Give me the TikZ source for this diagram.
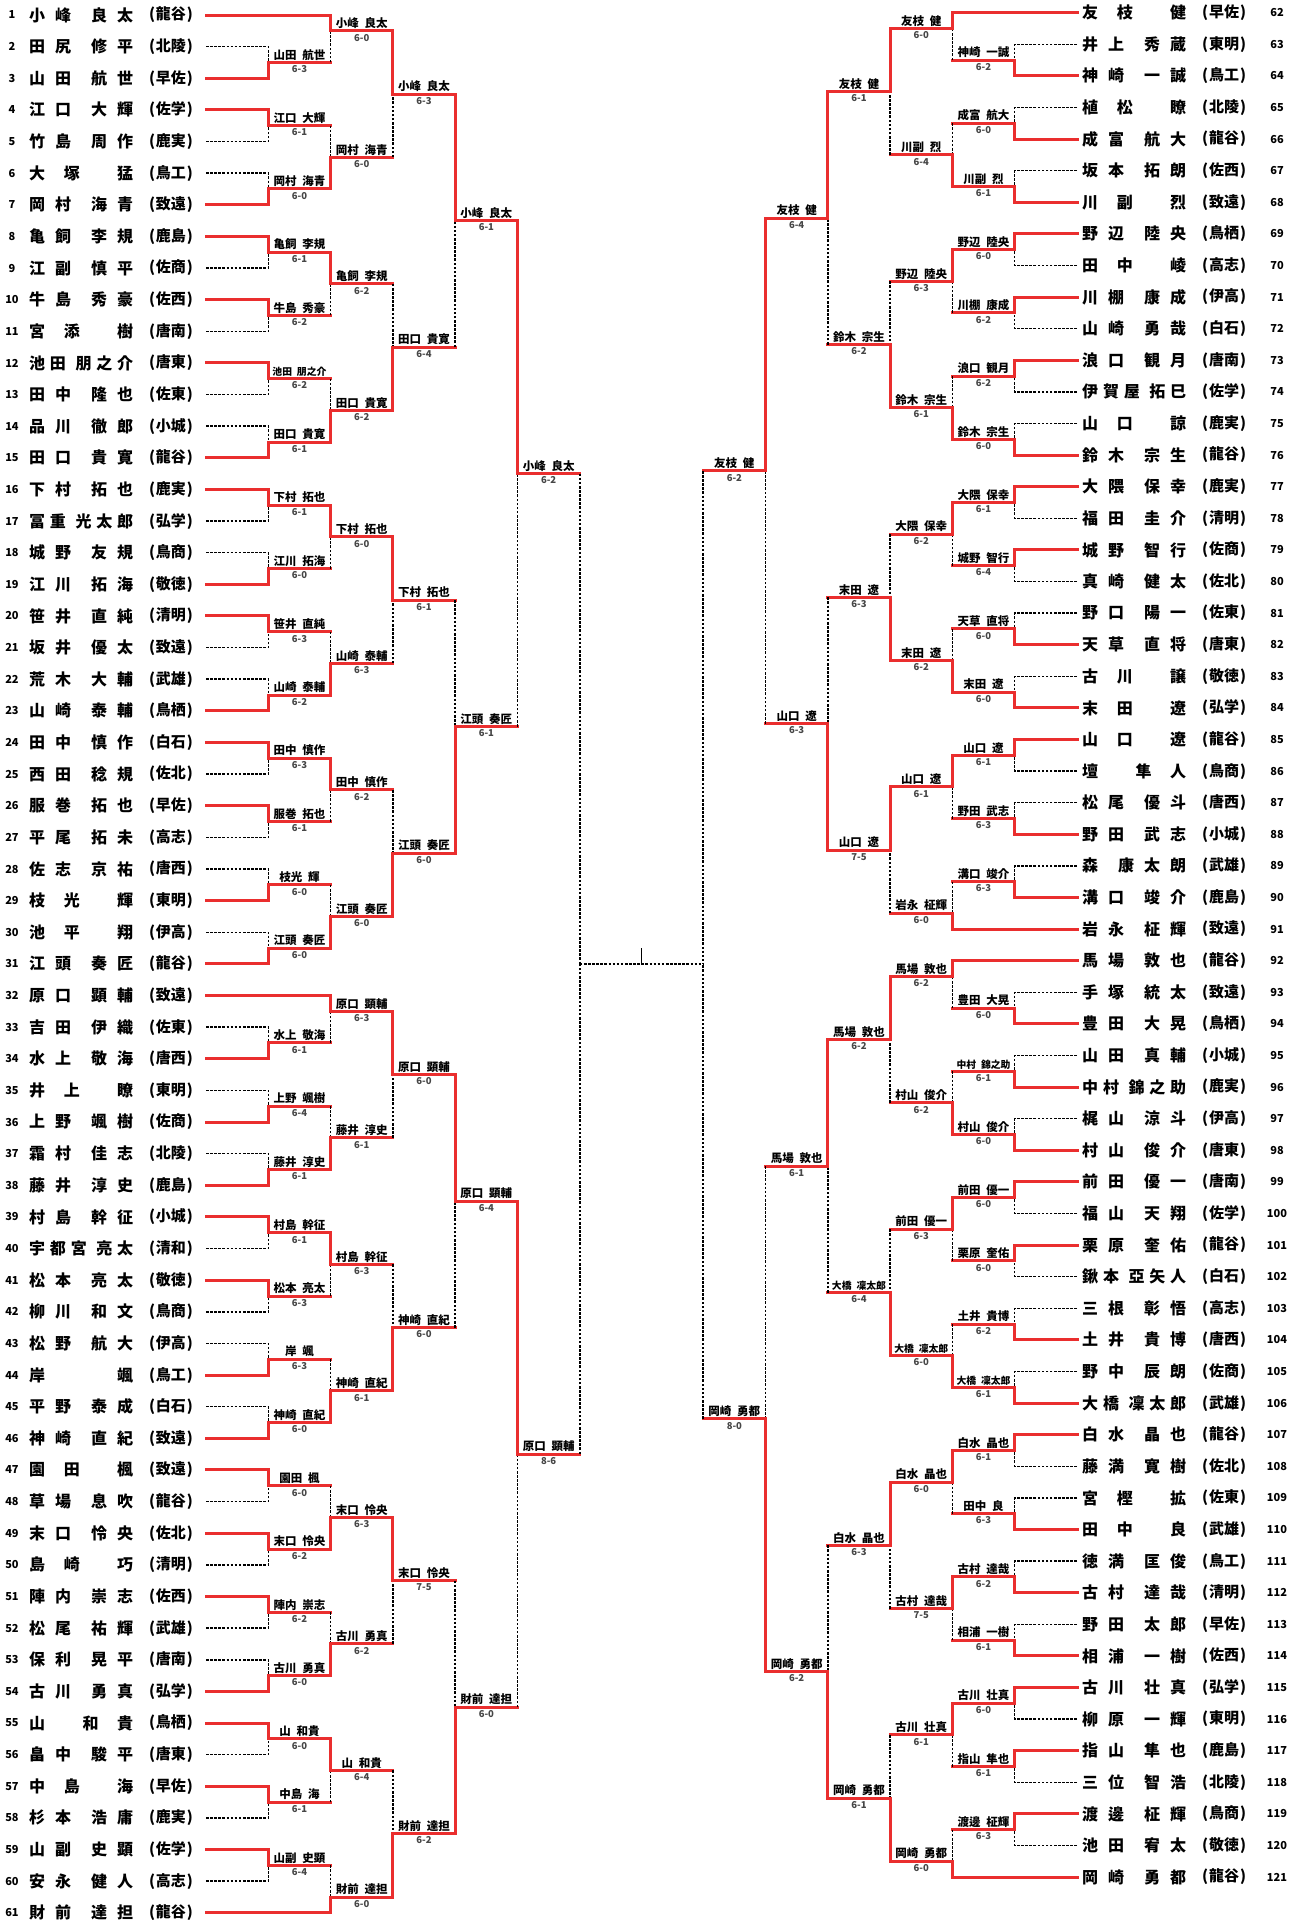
\documentclass[tikz,border=0pt]{standalone}
\usepackage{fontspec}
\usepackage{xcolor}
\usepackage{graphicx}
\usetikzlibrary{calc}
\setmainfont{Noto Sans CJK JP}
\definecolor{wred} {RGB}{234,46,46}
\definecolor{sgray}{RGB}{70,70,70}

\tikzset{
  win/.style={draw=wred, line width=3pt, line cap=rect},
  lose/.style={draw=black, line width=1.5pt, dash pattern=on 2.6pt off 1.5pt},
  numtxt/.style={font=\fontsize{11}{11}\selectfont\bfseries, inner sep=0pt},
  nametxt/.style={font=\fontsize{16}{16}\selectfont\bfseries, inner sep=0pt, anchor=west},
  schooltxt/.style={font=\fontsize{15}{15}\selectfont\bfseries, inner sep=0pt},
  lbl/.style={font=\fontsize{11.5}{11.5}\selectfont\bfseries, inner sep=0pt, anchor=south},
  scr/.style={font=\fontsize{9.5}{9.5}\selectfont\bfseries, text=sgray, inner sep=0pt, anchor=north},
  tickln/.style={draw=black, line width=1.2pt}
}

% spread a name over a fixed width
\newcommand\ja{\hskip 0pt plus 1fil}
\newcommand\jb{\hskip 0pt plus 2fil}
\def\sprdgob#1{}
\def\sprd#1{\sprdA#1\relax}
\def\sprdA#1#2{#1\ifx\relax#2\expandafter\sprdgob\else\ja\expandafter\sprdA\fi#2}
\newcommand\jname[2]{\makebox[104pt][s]{\sprd{#1}\ifx\relax#2\relax\else\jb\sprd{#2}\fi}}
% shrink a long label to the segment
\newsavebox\lblbox
\newcommand\fitlbl[1]{\sbox\lblbox{\spaceskip=.5em\relax#1}%
  \ifdim\wd\lblbox>54pt\resizebox{54pt}{!}{\usebox\lblbox}\else\usebox\lblbox\fi}

% players: number, family, given, school
\newcommand\pL[4]{%
  \coordinate (L#1) at (206,{15+(#1-1)*31.63});
  \node[numtxt] (nL#1) at (12,{15+(#1-1)*31.63}) {#1};
  \node[nametxt] (aL#1) at (29,{15+(#1-1)*31.63}) {\jname{#2}{#3}};
  \node[schooltxt] (sL#1) at (171,{15+(#1-1)*31.63}) {(\kern1pt#4\kern1pt)};}
\newcommand\pR[4]{%
  \coordinate (R#1) at (1077,{12.7+(#1-62)*31.6});
  \node[nametxt] (aR#1) at (1082,{12.7+(#1-62)*31.6}) {\jname{#2}{#3}};
  \node[schooltxt] (sR#1) at (1224,{12.7+(#1-62)*31.6}) {(\kern1pt#4\kern1pt)};
  \node[numtxt] (nR#1) at (1277,{12.7+(#1-62)*31.6}) {#1};}

% matches
\newcommand\mpos[4]{\path let \p1=($(#3)!.5!(#4)$) in ({(\sideX+(\sideD)*#2)*1pt},\y1) coordinate (#1);}
\newcommand\mlbl[3]{%
  \node[lbl] (#1t) at ($(#1)+({(\sideD)/2},-2)$) {\fitlbl{#2}};
  \node[scr] (#1s) at ($(#1)+({(\sideD)/2},3)$) {#3};}
\newcommand\legP[3]{\draw[lose] (#3) -| (#1); \draw[win] (#2) -| (#1);}
\newcommand\legM[3]{\draw[win] (#3) -- (#3 -| #1); \draw[lose] (#3 -| #1) -- (#1); \draw[win] (#2) -| (#1);}
\newcommand\mtch[7]{% name, col, winner, loser, p/m, label, score
  \mpos{#1}{#2}{#3}{#4}\mlbl{#1}{#6}{#7}%
  \if#5p\legP{#1}{#3}{#4}\else\legM{#1}{#3}{#4}\fi}
\newcommand\byem[8]{% name, col, posA, posB, winner, loser, label, score
  \mpos{#1}{#2}{#3}{#4}\mlbl{#1}{#7}{#8}\legM{#1}{#5}{#6}}

\begin{document}
\begin{tikzpicture}[x=1pt, y=-1pt]
  \fill[white] (0,0) rectangle (1304,1920);
  \useasboundingbox (0,0) rectangle (1304,1920);

  % left players
  \pL{1}{小峰}{良太}{龍谷}
  \pL{2}{田尻}{修平}{北陵}
  \pL{3}{山田}{航世}{早佐}
  \pL{4}{江口}{大輝}{佐学}
  \pL{5}{竹島}{周作}{鹿実}
  \pL{6}{大塚}{猛}{鳥工}
  \pL{7}{岡村}{海青}{致遠}
  \pL{8}{亀飼}{李規}{鹿島}
  \pL{9}{江副}{慎平}{佐商}
  \pL{10}{牛島}{秀豪}{佐西}
  \pL{11}{宮添}{樹}{唐南}
  \pL{12}{池田}{朋之介}{唐東}
  \pL{13}{田中}{隆也}{佐東}
  \pL{14}{品川}{徹郎}{小城}
  \pL{15}{田口}{貴寛}{龍谷}
  \pL{16}{下村}{拓也}{鹿実}
  \pL{17}{冨重}{光太郎}{弘学}
  \pL{18}{城野}{友規}{鳥商}
  \pL{19}{江川}{拓海}{敬徳}
  \pL{20}{笹井}{直純}{清明}
  \pL{21}{坂井}{優太}{致遠}
  \pL{22}{荒木}{大輔}{武雄}
  \pL{23}{山崎}{泰輔}{鳥栖}
  \pL{24}{田中}{慎作}{白石}
  \pL{25}{西田}{稔規}{佐北}
  \pL{26}{服巻}{拓也}{早佐}
  \pL{27}{平尾}{拓未}{高志}
  \pL{28}{佐志}{京祐}{唐西}
  \pL{29}{枝光}{輝}{東明}
  \pL{30}{池平}{翔}{伊高}
  \pL{31}{江頭}{奏匠}{龍谷}
  \pL{32}{原口}{顕輔}{致遠}
  \pL{33}{吉田}{伊織}{佐東}
  \pL{34}{水上}{敬海}{唐西}
  \pL{35}{井上}{瞭}{東明}
  \pL{36}{上野}{颯樹}{佐商}
  \pL{37}{霜村}{佳志}{北陵}
  \pL{38}{藤井}{淳史}{鹿島}
  \pL{39}{村島}{幹征}{小城}
  \pL{40}{宇都宮}{亮太}{清和}
  \pL{41}{松本}{亮太}{敬徳}
  \pL{42}{柳川}{和文}{鳥商}
  \pL{43}{松野}{航大}{伊高}
  \pL{44}{岸}{颯}{鳥工}
  \pL{45}{平野}{泰成}{白石}
  \pL{46}{神崎}{直紀}{致遠}
  \pL{47}{園田}{楓}{致遠}
  \pL{48}{草場}{息吹}{龍谷}
  \pL{49}{末口}{怜央}{佐北}
  \pL{50}{島崎}{巧}{清明}
  \pL{51}{陣内}{崇志}{佐西}
  \pL{52}{松尾}{祐輝}{武雄}
  \pL{53}{保利}{晃平}{唐南}
  \pL{54}{古川}{勇真}{弘学}
  \pL{55}{山}{和貴}{鳥栖}
  \pL{56}{畠中}{駿平}{唐東}
  \pL{57}{中島}{海}{早佐}
  \pL{58}{杉本}{浩庸}{鹿実}
  \pL{59}{山副}{史顕}{佐学}
  \pL{60}{安永}{健人}{高志}
  \pL{61}{財前}{達担}{龍谷}

  % right players
  \pR{62}{友枝}{健}{早佐}
  \pR{63}{井上}{秀蔵}{東明}
  \pR{64}{神崎}{一誠}{鳥工}
  \pR{65}{植松}{瞭}{北陵}
  \pR{66}{成富}{航大}{龍谷}
  \pR{67}{坂本}{拓朗}{佐西}
  \pR{68}{川副}{烈}{致遠}
  \pR{69}{野辺}{陸央}{鳥栖}
  \pR{70}{田中}{崚}{高志}
  \pR{71}{川棚}{康成}{伊高}
  \pR{72}{山崎}{勇哉}{白石}
  \pR{73}{浪口}{観月}{唐南}
  \pR{74}{伊賀屋}{拓巳}{佐学}
  \pR{75}{山口}{諒}{鹿実}
  \pR{76}{鈴木}{宗生}{龍谷}
  \pR{77}{大隈}{保幸}{鹿実}
  \pR{78}{福田}{圭介}{清明}
  \pR{79}{城野}{智行}{佐商}
  \pR{80}{真崎}{健太}{佐北}
  \pR{81}{野口}{陽一}{佐東}
  \pR{82}{天草}{直将}{唐東}
  \pR{83}{古川}{譲}{敬徳}
  \pR{84}{末田}{遼}{弘学}
  \pR{85}{山口}{遼}{龍谷}
  \pR{86}{壇}{隼人}{鳥商}
  \pR{87}{松尾}{優斗}{唐西}
  \pR{88}{野田}{武志}{小城}
  \pR{89}{森}{康太朗}{武雄}
  \pR{90}{溝口}{竣介}{鹿島}
  \pR{91}{岩永}{柾輝}{致遠}
  \pR{92}{馬場}{敦也}{龍谷}
  \pR{93}{手塚}{統太}{致遠}
  \pR{94}{豊田}{大晃}{鳥栖}
  \pR{95}{山田}{真輔}{小城}
  \pR{96}{中村}{錦之助}{鹿実}
  \pR{97}{梶山}{涼斗}{伊高}
  \pR{98}{村山}{俊介}{唐東}
  \pR{99}{前田}{優一}{唐南}
  \pR{100}{福山}{天翔}{佐学}
  \pR{101}{栗原}{奎佑}{龍谷}
  \pR{102}{鍬本}{亞矢人}{白石}
  \pR{103}{三根}{彰悟}{高志}
  \pR{104}{土井}{貴博}{唐西}
  \pR{105}{野中}{辰朗}{佐商}
  \pR{106}{大橋}{凜太郎}{武雄}
  \pR{107}{白水}{晶也}{龍谷}
  \pR{108}{藤満}{寛樹}{佐北}
  \pR{109}{宮樫}{拡}{佐東}
  \pR{110}{田中}{良}{武雄}
  \pR{111}{徳満}{匡俊}{鳥工}
  \pR{112}{古村}{達哉}{清明}
  \pR{113}{野田}{太郎}{早佐}
  \pR{114}{相浦}{一樹}{佐西}
  \pR{115}{古川}{壮真}{弘学}
  \pR{116}{柳原}{一輝}{東明}
  \pR{117}{指山}{隼也}{鹿島}
  \pR{118}{三位}{智浩}{北陵}
  \pR{119}{渡邊}{柾輝}{鳥商}
  \pR{120}{池田}{宥太}{敬徳}
  \pR{121}{岡崎}{勇都}{龍谷}

  % left bracket
  \def\sideX{206}\def\sideD{62.3}
  \mtch{w3r1}{1}{L3}{L2}{p}{山田 航世}{6-3}
  \byem{w1r2}{2}{L1}{L2}{L1}{w3r1}{小峰 良太}{6-0}
  \mtch{w4r1}{1}{L4}{L5}{p}{江口 大輝}{6-1}
  \mtch{w7r1}{1}{L7}{L6}{p}{岡村 海青}{6-0}
  \mtch{w7r2}{2}{w7r1}{w4r1}{m}{岡村 海青}{6-0}
  \mtch{w1r3}{3}{w1r2}{w7r2}{m}{小峰 良太}{6-3}
  \mtch{w8r1}{1}{L8}{L9}{p}{亀飼 李規}{6-1}
  \mtch{w10r1}{1}{L10}{L11}{p}{牛島 秀豪}{6-2}
  \mtch{w8r2}{2}{w8r1}{w10r1}{m}{亀飼 李規}{6-2}
  \mtch{w12r1}{1}{L12}{L13}{p}{池田 朋之介}{6-2}
  \mtch{w15r1}{1}{L15}{L14}{p}{田口 貴寛}{6-1}
  \mtch{w15r2}{2}{w15r1}{w12r1}{m}{田口 貴寛}{6-2}
  \mtch{w15r3}{3}{w15r2}{w8r2}{m}{田口 貴寛}{6-4}
  \mtch{w1r4}{4}{w1r3}{w15r3}{m}{小峰 良太}{6-1}

  \mtch{w16r1}{1}{L16}{L17}{p}{下村 拓也}{6-1}
  \mtch{w19r1}{1}{L19}{L18}{p}{江川 拓海}{6-0}
  \mtch{w16r2}{2}{w16r1}{w19r1}{m}{下村 拓也}{6-0}
  \mtch{w20r1}{1}{L20}{L21}{p}{笹井 直純}{6-3}
  \mtch{w23r1}{1}{L23}{L22}{p}{山崎 泰輔}{6-2}
  \mtch{w23r2}{2}{w23r1}{w20r1}{m}{山崎 泰輔}{6-3}
  \mtch{w16r3}{3}{w16r2}{w23r2}{m}{下村 拓也}{6-1}
  \mtch{w24r1}{1}{L24}{L25}{p}{田中 慎作}{6-3}
  \mtch{w26r1}{1}{L26}{L27}{p}{服巻 拓也}{6-1}
  \mtch{w24r2}{2}{w24r1}{w26r1}{m}{田中 慎作}{6-2}
  \mtch{w29r1}{1}{L29}{L28}{p}{枝光 輝}{6-0}
  \mtch{w31r1}{1}{L31}{L30}{p}{江頭 奏匠}{6-0}
  \mtch{w31r2}{2}{w31r1}{w29r1}{m}{江頭 奏匠}{6-0}
  \mtch{w31r3}{3}{w31r2}{w24r2}{m}{江頭 奏匠}{6-0}
  \mtch{w31r4}{4}{w31r3}{w16r3}{m}{江頭 奏匠}{6-1}
  \mtch{w1r5}{5}{w1r4}{w31r4}{m}{小峰 良太}{6-2}

  \mtch{w34r1}{1}{L34}{L33}{p}{水上 敬海}{6-1}
  \byem{w32r2}{2}{L32}{L33}{L32}{w34r1}{原口 顕輔}{6-3}
  \mtch{w36r1}{1}{L36}{L35}{p}{上野 颯樹}{6-4}
  \mtch{w38r1}{1}{L38}{L37}{p}{藤井 淳史}{6-1}
  \mtch{w38r2}{2}{w38r1}{w36r1}{m}{藤井 淳史}{6-1}
  \mtch{w32r3}{3}{w32r2}{w38r2}{m}{原口 顕輔}{6-0}
  \mtch{w39r1}{1}{L39}{L40}{p}{村島 幹征}{6-1}
  \mtch{w41r1}{1}{L41}{L42}{p}{松本 亮太}{6-3}
  \mtch{w39r2}{2}{w39r1}{w41r1}{m}{村島 幹征}{6-3}
  \mtch{w44r1}{1}{L44}{L43}{p}{岸 颯}{6-3}
  \mtch{w46r1}{1}{L46}{L45}{p}{神崎 直紀}{6-0}
  \mtch{w46r2}{2}{w46r1}{w44r1}{m}{神崎 直紀}{6-1}
  \mtch{w46r3}{3}{w46r2}{w39r2}{m}{神崎 直紀}{6-0}
  \mtch{w32r4}{4}{w32r3}{w46r3}{m}{原口 顕輔}{6-4}

  \mtch{w47r1}{1}{L47}{L48}{p}{園田 楓}{6-0}
  \mtch{w49r1}{1}{L49}{L50}{p}{末口 怜央}{6-2}
  \mtch{w49r2}{2}{w49r1}{w47r1}{m}{末口 怜央}{6-3}
  \mtch{w51r1}{1}{L51}{L52}{p}{陣内 崇志}{6-2}
  \mtch{w54r1}{1}{L54}{L53}{p}{古川 勇真}{6-0}
  \mtch{w54r2}{2}{w54r1}{w51r1}{m}{古川 勇真}{6-2}
  \mtch{w49r3}{3}{w49r2}{w54r2}{m}{末口 怜央}{7-5}
  \mtch{w55r1}{1}{L55}{L56}{p}{山 和貴}{6-0}
  \mtch{w57r1}{1}{L57}{L58}{p}{中島 海}{6-1}
  \mtch{w55r2}{2}{w55r1}{w57r1}{m}{山 和貴}{6-4}
  \mtch{w59r1}{1}{L59}{L60}{p}{山副 史顕}{6-4}
  \byem{w61r2}{2}{L60}{L61}{L61}{w59r1}{財前 達担}{6-0}
  \mtch{w61r3}{3}{w61r2}{w55r2}{m}{財前 達担}{6-2}
  \mtch{w61r4}{4}{w61r3}{w49r3}{m}{財前 達担}{6-0}
  \mtch{w32r5}{5}{w32r4}{w61r4}{m}{原口 顕輔}{8-6}
  \mpos{finL}{6}{w1r5}{w32r5}

  % right bracket
  \def\sideX{1077}\def\sideD{-62.3}
  \mtch{w64r1}{1}{R64}{R63}{p}{神崎 一誠}{6-2}
  \byem{w62r2}{2}{R62}{R63}{R62}{w64r1}{友枝 健}{6-0}
  \mtch{w66r1}{1}{R66}{R65}{p}{成富 航大}{6-0}
  \mtch{w68r1}{1}{R68}{R67}{p}{川副 烈}{6-1}
  \mtch{w68r2}{2}{w68r1}{w66r1}{m}{川副 烈}{6-4}
  \mtch{w62r3}{3}{w62r2}{w68r2}{m}{友枝 健}{6-1}
  \mtch{w69r1}{1}{R69}{R70}{p}{野辺 陸央}{6-0}
  \mtch{w71r1}{1}{R71}{R72}{p}{川棚 康成}{6-2}
  \mtch{w69r2}{2}{w69r1}{w71r1}{m}{野辺 陸央}{6-3}
  \mtch{w73r1}{1}{R73}{R74}{p}{浪口 観月}{6-2}
  \mtch{w76r1}{1}{R76}{R75}{p}{鈴木 宗生}{6-0}
  \mtch{w76r2}{2}{w76r1}{w73r1}{m}{鈴木 宗生}{6-1}
  \mtch{w76r3}{3}{w76r2}{w69r2}{m}{鈴木 宗生}{6-2}
  \mtch{w62r4}{4}{w62r3}{w76r3}{m}{友枝 健}{6-4}

  \mtch{w77r1}{1}{R77}{R78}{p}{大隈 保幸}{6-1}
  \mtch{w79r1}{1}{R79}{R80}{p}{城野 智行}{6-4}
  \mtch{w77r2}{2}{w77r1}{w79r1}{m}{大隈 保幸}{6-2}
  \mtch{w82r1}{1}{R82}{R81}{p}{天草 直将}{6-0}
  \mtch{w84r1}{1}{R84}{R83}{p}{末田 遼}{6-0}
  \mtch{w84r2}{2}{w84r1}{w82r1}{m}{末田 遼}{6-2}
  \mtch{w84r3}{3}{w84r2}{w77r2}{m}{末田 遼}{6-3}
  \mtch{w85r1}{1}{R85}{R86}{p}{山口 遼}{6-1}
  \mtch{w88r1}{1}{R88}{R87}{p}{野田 武志}{6-3}
  \mtch{w85r2}{2}{w85r1}{w88r1}{m}{山口 遼}{6-1}
  \mtch{w90r1}{1}{R90}{R89}{p}{溝口 竣介}{6-3}
  \byem{w91r2}{2}{R90}{R91}{R91}{w90r1}{岩永 柾輝}{6-0}
  \mtch{w85r3}{3}{w85r2}{w91r2}{m}{山口 遼}{7-5}
  \mtch{w85r4}{4}{w85r3}{w84r3}{m}{山口 遼}{6-3}
  \mtch{w62r5}{5}{w62r4}{w85r4}{m}{友枝 健}{6-2}

  \mtch{w94r1}{1}{R94}{R93}{p}{豊田 大晃}{6-0}
  \byem{w92r2}{2}{R92}{R93}{R92}{w94r1}{馬場 敦也}{6-2}
  \mtch{w96r1}{1}{R96}{R95}{p}{中村 錦之助}{6-1}
  \mtch{w98r1}{1}{R98}{R97}{p}{村山 俊介}{6-0}
  \mtch{w98r2}{2}{w98r1}{w96r1}{m}{村山 俊介}{6-2}
  \mtch{w92r3}{3}{w92r2}{w98r2}{m}{馬場 敦也}{6-2}
  \mtch{w99r1}{1}{R99}{R100}{p}{前田 優一}{6-0}
  \mtch{w101r1}{1}{R101}{R102}{p}{栗原 奎佑}{6-0}
  \mtch{w99r2}{2}{w99r1}{w101r1}{m}{前田 優一}{6-3}
  \mtch{w104r1}{1}{R104}{R103}{p}{土井 貴博}{6-2}
  \mtch{w106r1}{1}{R106}{R105}{p}{大橋 凜太郎}{6-1}
  \mtch{w106r2}{2}{w106r1}{w104r1}{m}{大橋 凜太郎}{6-0}
  \mtch{w106r3}{3}{w106r2}{w99r2}{m}{大橋 凜太郎}{6-4}
  \mtch{w92r4}{4}{w92r3}{w106r3}{m}{馬場 敦也}{6-1}

  \mtch{w107r1}{1}{R107}{R108}{p}{白水 晶也}{6-1}
  \mtch{w110r1}{1}{R110}{R109}{p}{田中 良}{6-3}
  \mtch{w107r2}{2}{w107r1}{w110r1}{m}{白水 晶也}{6-0}
  \mtch{w112r1}{1}{R112}{R111}{p}{古村 達哉}{6-2}
  \mtch{w114r1}{1}{R114}{R113}{p}{相浦 一樹}{6-1}
  \mtch{w112r2}{2}{w112r1}{w114r1}{m}{古村 達哉}{7-5}
  \mtch{w107r3}{3}{w107r2}{w112r2}{m}{白水 晶也}{6-3}
  \mtch{w115r1}{1}{R115}{R116}{p}{古川 壮真}{6-0}
  \mtch{w117r1}{1}{R117}{R118}{p}{指山 隼也}{6-1}
  \mtch{w115r2}{2}{w115r1}{w117r1}{m}{古川 壮真}{6-1}
  \mtch{w119r1}{1}{R119}{R120}{p}{渡邊 柾輝}{6-3}
  \byem{w121r2}{2}{R120}{R121}{R121}{w119r1}{岡崎 勇都}{6-0}
  \mtch{w121r3}{3}{w121r2}{w115r2}{m}{岡崎 勇都}{6-1}
  \mtch{w121r4}{4}{w121r3}{w107r3}{m}{岡崎 勇都}{6-2}
  \mtch{w121r5}{5}{w121r4}{w92r4}{m}{岡崎 勇都}{8-0}
  \mpos{finR}{6}{finL}{finL}

  % final
  \draw[win] (w1r5) -- (w1r5 -| finL);
  \draw[lose] (w1r5 -| finL) -- (finL);
  \draw[win] (w32r5) -- (w32r5 -| finL);
  \draw[lose] (w32r5 -| finL) -- (finL);
  \draw[win] (w62r5) -- (w62r5 -| finR);
  \draw[lose] (w62r5 -| finR) -- (finR);
  \draw[win] (w121r5) -- (w121r5 -| finR);
  \draw[lose] (w121r5 -| finR) -- (finR);
  \draw[lose] (finL) -- (finR);
  \draw[tickln] ($(finL)!.5!(finR)$) coordinate (fmid) -- ++(0,-16);
\end{tikzpicture}
\end{document}
